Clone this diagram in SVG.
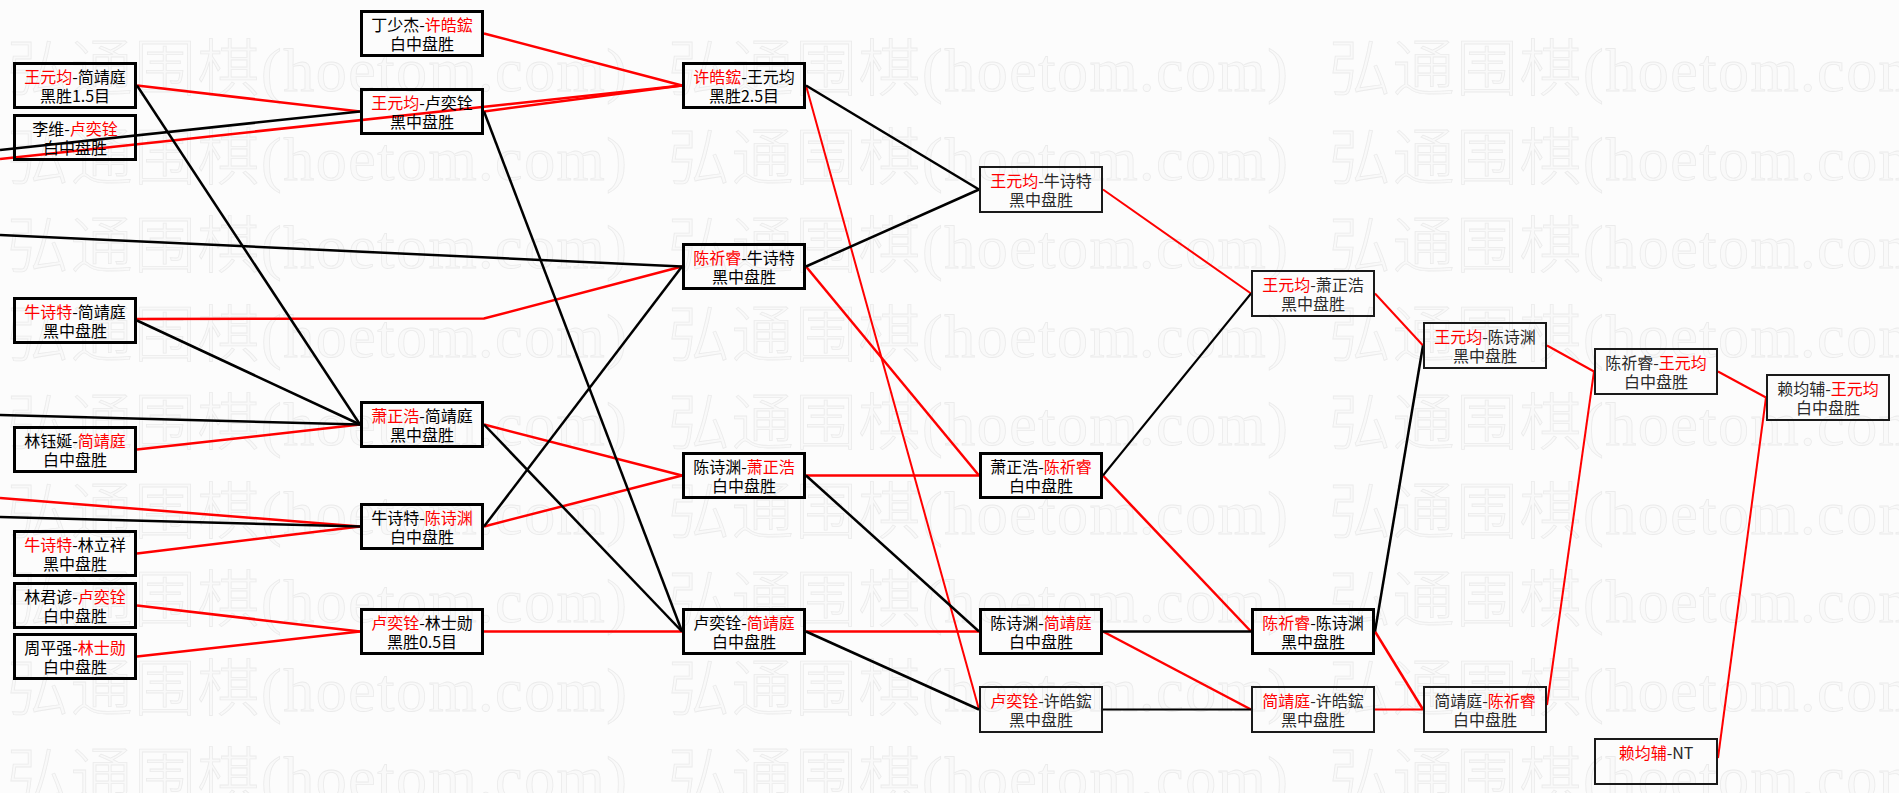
<svg xmlns="http://www.w3.org/2000/svg" width="1899" height="793" viewBox="0 0 1899 793">
<style>
.wm{font-family:"Liberation Serif","Noto Sans CJK SC",serif;font-size:62px;font-weight:200;fill:#f9f9f9;stroke:#ebebeb;stroke-width:0.8}
.bx{fill:none;stroke:#000;stroke-width:3}
.bt{fill:none;stroke:#1a1a1a;stroke-width:2}
.t{font-family:"Noto Sans CJK SC",sans-serif;font-size:16px;text-anchor:middle;fill:#000}
.tt{font-family:"Noto Sans CJK SC",sans-serif;font-size:16px;text-anchor:middle;fill:#2a2a2a}
.r{fill:#f00}
.w{stroke:#f00;fill:none;stroke-width:2.5}
.w2{stroke:#f00;fill:none;stroke-width:2}
.l{stroke:#000;fill:none;stroke-width:2.5}
.l2{stroke:#000;fill:none;stroke-width:2}
</style>
<rect x="0" y="0" width="1899" height="793" fill="#fcfcfc"/>
<g id="watermark">
<text class="wm" x="7" y="91" textLength="620">弘通围棋(hoetom.com)</text><text class="wm" x="668" y="91" textLength="620">弘通围棋(hoetom.com)</text><text class="wm" x="1329" y="91" textLength="620">弘通围棋(hoetom.com)</text>
<text class="wm" x="7" y="179.5" textLength="620">弘通围棋(hoetom.com)</text><text class="wm" x="668" y="179.5" textLength="620">弘通围棋(hoetom.com)</text><text class="wm" x="1329" y="179.5" textLength="620">弘通围棋(hoetom.com)</text>
<text class="wm" x="7" y="268" textLength="620">弘通围棋(hoetom.com)</text><text class="wm" x="668" y="268" textLength="620">弘通围棋(hoetom.com)</text><text class="wm" x="1329" y="268" textLength="620">弘通围棋(hoetom.com)</text>
<text class="wm" x="7" y="356.5" textLength="620">弘通围棋(hoetom.com)</text><text class="wm" x="668" y="356.5" textLength="620">弘通围棋(hoetom.com)</text><text class="wm" x="1329" y="356.5" textLength="620">弘通围棋(hoetom.com)</text>
<text class="wm" x="7" y="445" textLength="620">弘通围棋(hoetom.com)</text><text class="wm" x="668" y="445" textLength="620">弘通围棋(hoetom.com)</text><text class="wm" x="1329" y="445" textLength="620">弘通围棋(hoetom.com)</text>
<text class="wm" x="7" y="533.5" textLength="620">弘通围棋(hoetom.com)</text><text class="wm" x="668" y="533.5" textLength="620">弘通围棋(hoetom.com)</text><text class="wm" x="1329" y="533.5" textLength="620">弘通围棋(hoetom.com)</text>
<text class="wm" x="7" y="622" textLength="620">弘通围棋(hoetom.com)</text><text class="wm" x="668" y="622" textLength="620">弘通围棋(hoetom.com)</text><text class="wm" x="1329" y="622" textLength="620">弘通围棋(hoetom.com)</text>
<text class="wm" x="7" y="710.5" textLength="620">弘通围棋(hoetom.com)</text><text class="wm" x="668" y="710.5" textLength="620">弘通围棋(hoetom.com)</text><text class="wm" x="1329" y="710.5" textLength="620">弘通围棋(hoetom.com)</text>
<text class="wm" x="7" y="799" textLength="620">弘通围棋(hoetom.com)</text><text class="wm" x="668" y="799" textLength="620">弘通围棋(hoetom.com)</text><text class="wm" x="1329" y="799" textLength="620">弘通围棋(hoetom.com)</text>
</g>
<g id="connectors">
<line class="w" x1="137" y1="85.5" x2="360" y2="111.5"/>
<line class="w" x1="0" y1="159" x2="682" y2="85.5"/>
<line class="w" x1="484" y1="33.5" x2="682" y2="85.5"/>
<line class="w" x1="484" y1="111.5" x2="682" y2="85.5"/>
<polyline class="w" points="137,319 484,318.5 682,266.5"/>
<line class="w" x1="137" y1="449.5" x2="360" y2="424.5"/>
<line class="w" x1="0" y1="498" x2="360" y2="526.5"/>
<line class="w" x1="137" y1="553.5" x2="360" y2="526.5"/>
<line class="w" x1="137" y1="605.5" x2="360" y2="631.5"/>
<line class="w" x1="137" y1="656.5" x2="360" y2="631.5"/>
<line class="w" x1="484" y1="424.5" x2="682" y2="475.5"/>
<line class="w" x1="484" y1="526.5" x2="682" y2="475.5"/>
<line class="w" x1="484" y1="631.5" x2="682" y2="631.5"/>
<line class="w2" x1="806" y1="85.5" x2="979" y2="709.5"/>
<line class="w" x1="806" y1="266.5" x2="979" y2="475.5"/>
<line class="w" x1="806" y1="475.5" x2="979" y2="475.5"/>
<line class="w" x1="806" y1="631.5" x2="979" y2="631.5"/>
<line class="w2" x1="1103" y1="189.5" x2="1251" y2="293.5"/>
<line class="w" x1="1103" y1="475.5" x2="1251" y2="631.5"/>
<line class="w" x1="1103" y1="631.5" x2="1251" y2="709.5"/>
<line class="w2" x1="1375" y1="293.5" x2="1423" y2="345.5"/>
<line class="w" x1="1375" y1="631.5" x2="1423" y2="709.5"/>
<line class="w2" x1="1375" y1="709.5" x2="1423" y2="709.5"/>
<line class="w2" x1="1547" y1="345.5" x2="1594" y2="371.5"/>
<line class="w2" x1="1547" y1="705" x2="1594" y2="371.5"/>
<line class="w2" x1="1718" y1="371.5" x2="1766" y2="397.5"/>
<line class="w2" x1="1718" y1="758" x2="1766" y2="397.5"/>
<line class="l" x1="0" y1="150" x2="360" y2="111.5"/>
<line class="l" x1="137" y1="85.5" x2="360" y2="424.5"/>
<line class="l" x1="0" y1="235" x2="682" y2="266.5"/>
<line class="l" x1="137" y1="320.5" x2="360" y2="424.5"/>
<line class="l" x1="0" y1="415" x2="360" y2="424.5"/>
<line class="l" x1="0" y1="517" x2="360" y2="526.5"/>
<line class="l" x1="484" y1="111.5" x2="682" y2="631.5"/>
<line class="l" x1="484" y1="424.5" x2="682" y2="631.5"/>
<line class="l" x1="484" y1="526.5" x2="682" y2="266.5"/>
<line class="l" x1="806" y1="85.5" x2="979" y2="189.5"/>
<line class="l" x1="806" y1="266.5" x2="979" y2="189.5"/>
<line class="l" x1="806" y1="475.5" x2="979" y2="631.5"/>
<line class="l" x1="806" y1="631.5" x2="979" y2="709.5"/>
<line class="l2" x1="1103" y1="475.5" x2="1251" y2="293.5"/>
<line class="l" x1="1103" y1="631.5" x2="1251" y2="631.5"/>
<line class="l2" x1="1103" y1="709.5" x2="1251" y2="709.5"/>
<line class="l" x1="1375" y1="631.5" x2="1423" y2="345.5"/>
</g>
<g id="A1"><rect class="bx" x="14.5" y="63.5" width="121" height="44"/><text class="t" x="75" y="82.5"><tspan class="r">王元均</tspan>-简靖庭</text><text class="t" x="75" y="102">黑胜1.5目</text></g>
<g id="A2"><rect class="bx" x="14.5" y="115.5" width="121" height="44"/><text class="t" x="75" y="134.5">李维-<tspan class="r">卢奕铨</tspan></text><text class="t" x="75" y="154">白中盘胜</text></g>
<g id="A3"><rect class="bx" x="14.5" y="298.5" width="121" height="44"/><text class="t" x="75" y="317.5"><tspan class="r">牛诗特</tspan>-简靖庭</text><text class="t" x="75" y="337">黑中盘胜</text></g>
<g id="A4"><rect class="bx" x="14.5" y="427.5" width="121" height="44"/><text class="t" x="75" y="446.5">林钰娫-<tspan class="r">简靖庭</tspan></text><text class="t" x="75" y="466">白中盘胜</text></g>
<g id="A5"><rect class="bx" x="14.5" y="531.5" width="121" height="44"/><text class="t" x="75" y="550.5"><tspan class="r">牛诗特</tspan>-林立祥</text><text class="t" x="75" y="570">黑中盘胜</text></g>
<g id="A6"><rect class="bx" x="14.5" y="583.5" width="121" height="44"/><text class="t" x="75" y="602.5">林君谚-<tspan class="r">卢奕铨</tspan></text><text class="t" x="75" y="622">白中盘胜</text></g>
<g id="A7"><rect class="bx" x="14.5" y="634.5" width="121" height="44"/><text class="t" x="75" y="653.5">周平强-<tspan class="r">林士勋</tspan></text><text class="t" x="75" y="673">白中盘胜</text></g>
<g id="B1"><rect class="bx" x="361.5" y="11.5" width="121" height="44"/><text class="t" x="422" y="30.5">丁少杰-<tspan class="r">许皓鋐</tspan></text><text class="t" x="422" y="50">白中盘胜</text></g>
<g id="B2"><rect class="bx" x="361.5" y="89.5" width="121" height="44"/><text class="t" x="422" y="108.5"><tspan class="r">王元均</tspan>-卢奕铨</text><text class="t" x="422" y="128">黑中盘胜</text></g>
<g id="B3"><rect class="bx" x="361.5" y="402.5" width="121" height="44"/><text class="t" x="422" y="421.5"><tspan class="r">萧正浩</tspan>-简靖庭</text><text class="t" x="422" y="441">黑中盘胜</text></g>
<g id="B4"><rect class="bx" x="361.5" y="504.5" width="121" height="44"/><text class="t" x="422" y="523.5">牛诗特-<tspan class="r">陈诗渊</tspan></text><text class="t" x="422" y="543">白中盘胜</text></g>
<g id="B5"><rect class="bx" x="361.5" y="609.5" width="121" height="44"/><text class="t" x="422" y="628.5"><tspan class="r">卢奕铨</tspan>-林士勋</text><text class="t" x="422" y="648">黑胜0.5目</text></g>
<g id="C1"><rect class="bx" x="683.5" y="63.5" width="121" height="44"/><text class="t" x="744" y="82.5"><tspan class="r">许皓鋐</tspan>-王元均</text><text class="t" x="744" y="102">黑胜2.5目</text></g>
<g id="C2"><rect class="bx" x="683.5" y="244.5" width="121" height="44"/><text class="t" x="744" y="263.5"><tspan class="r">陈祈睿</tspan>-牛诗特</text><text class="t" x="744" y="283">黑中盘胜</text></g>
<g id="C3"><rect class="bx" x="683.5" y="453.5" width="121" height="44"/><text class="t" x="744" y="472.5">陈诗渊-<tspan class="r">萧正浩</tspan></text><text class="t" x="744" y="492">白中盘胜</text></g>
<g id="C4"><rect class="bx" x="683.5" y="609.5" width="121" height="44"/><text class="t" x="744" y="628.5">卢奕铨-<tspan class="r">简靖庭</tspan></text><text class="t" x="744" y="648">白中盘胜</text></g>
<g id="D1"><rect class="bt" x="980" y="167" width="122" height="45"/><text class="tt" x="1041" y="186.5"><tspan class="r">王元均</tspan>-牛诗特</text><text class="tt" x="1041" y="206">黑中盘胜</text></g>
<g id="D2"><rect class="bx" x="980.5" y="453.5" width="121" height="44"/><text class="t" x="1041" y="472.5">萧正浩-<tspan class="r">陈祈睿</tspan></text><text class="t" x="1041" y="492">白中盘胜</text></g>
<g id="D3"><rect class="bx" x="980.5" y="609.5" width="121" height="44"/><text class="t" x="1041" y="628.5">陈诗渊-<tspan class="r">简靖庭</tspan></text><text class="t" x="1041" y="648">白中盘胜</text></g>
<g id="D4"><rect class="bt" x="980" y="687" width="122" height="45"/><text class="tt" x="1041" y="706.5"><tspan class="r">卢奕铨</tspan>-许皓鋐</text><text class="tt" x="1041" y="726">黑中盘胜</text></g>
<g id="E1"><rect class="bt" x="1252" y="271" width="122" height="45"/><text class="tt" x="1313" y="290.5"><tspan class="r">王元均</tspan>-萧正浩</text><text class="tt" x="1313" y="310">黑中盘胜</text></g>
<g id="E2"><rect class="bx" x="1252.5" y="609.5" width="121" height="44"/><text class="t" x="1313" y="628.5"><tspan class="r">陈祈睿</tspan>-陈诗渊</text><text class="t" x="1313" y="648">黑中盘胜</text></g>
<g id="E3"><rect class="bt" x="1252" y="687" width="122" height="45"/><text class="tt" x="1313" y="706.5"><tspan class="r">简靖庭</tspan>-许皓鋐</text><text class="tt" x="1313" y="726">黑中盘胜</text></g>
<g id="F1"><rect class="bt" x="1424" y="323" width="122" height="45"/><text class="tt" x="1485" y="342.5"><tspan class="r">王元均</tspan>-陈诗渊</text><text class="tt" x="1485" y="362">黑中盘胜</text></g>
<g id="F2"><rect class="bt" x="1424" y="687" width="122" height="45"/><text class="tt" x="1485" y="706.5">简靖庭-<tspan class="r">陈祈睿</tspan></text><text class="tt" x="1485" y="726">白中盘胜</text></g>
<g id="G1"><rect class="bt" x="1595" y="349" width="122" height="45"/><text class="tt" x="1656" y="368.5">陈祈睿-<tspan class="r">王元均</tspan></text><text class="tt" x="1656" y="388">白中盘胜</text></g>
<g id="G2"><rect class="bt" x="1595" y="739" width="122" height="45"/><text class="tt" x="1656" y="758.5"><tspan class="r">赖均辅</tspan>-NT</text></g>
<g id="H1"><rect class="bt" x="1767" y="375" width="122" height="45"/><text class="tt" x="1828" y="394.5">赖均辅-<tspan class="r">王元均</tspan></text><text class="tt" x="1828" y="414">白中盘胜</text></g>
</svg>
